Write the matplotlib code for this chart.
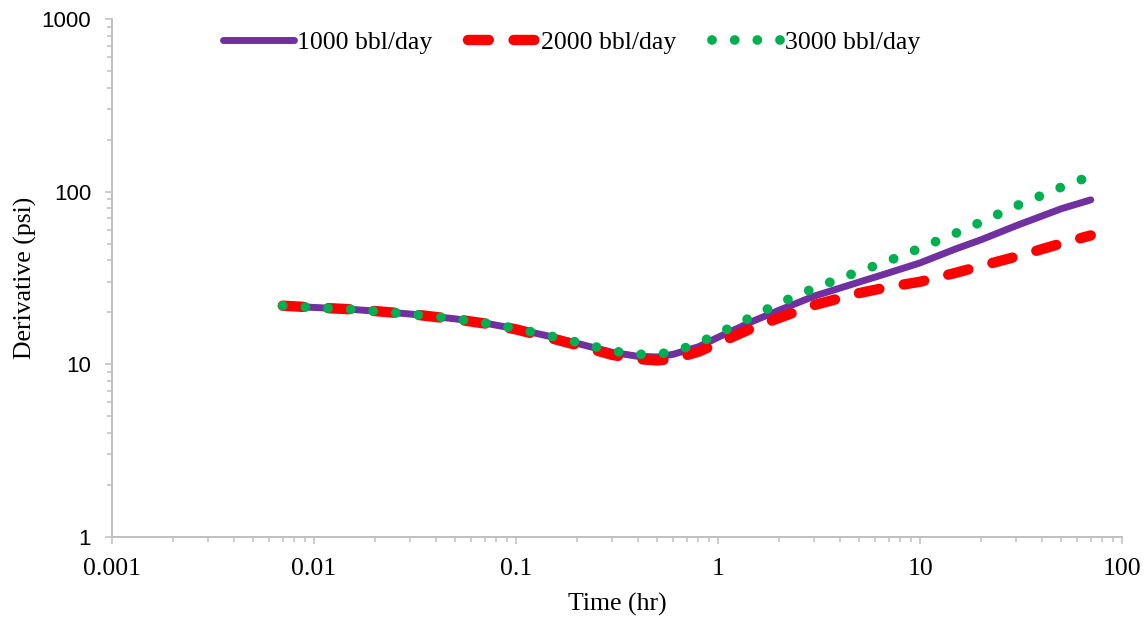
import matplotlib
matplotlib.use('Agg')
import matplotlib.pyplot as plt
from matplotlib.ticker import LogLocator, NullFormatter

# values
time_hr = [0.007, 0.01, 0.015, 0.02, 0.03, 0.05, 0.07, 0.1, 0.15, 0.2, 0.3,
           0.4, 0.5, 0.6, 0.8, 1, 1.5, 2, 3, 5, 7, 10, 15, 20, 30, 50, 70]
deriv_1000 = [21.8, 21.3, 20.8, 20.3, 19.5, 18.3, 17.3, 16.0, 14.4, 13.2, 11.7,
              11.1, 11.0, 11.4, 12.6, 14.3, 17.8, 20.5, 24.8, 29.9, 33.8, 38.6,
              46.5, 52.5, 63.5, 79.5, 89.5]
deriv_2000 = [21.8, 21.3, 20.8, 20.3, 19.5, 18.2, 17.2, 15.9, 14.1, 12.9, 11.3,
              10.7, 10.5, 10.7, 11.8, 13.2, 16.3, 18.5, 22.0, 25.8, 28.0, 30.0,
              33.8, 37.0, 42.0, 50.0, 55.7]
deriv_3000 = [21.8, 21.3, 20.8, 20.3, 19.5, 18.3, 17.3, 16.1, 14.5, 13.4, 11.9,
              11.4, 11.4, 11.8, 13.2, 15.0, 19.0, 22.5, 27.6, 34.5, 39.7, 47.0,
              57.3, 66.5, 82.7, 106, 123]
series_labels = ['1000 bbl/day', '2000 bbl/day', '3000 bbl/day']

x_ticks = [0.001, 0.01, 0.1, 1, 10, 100]
x_tick_labels = ['0.001', '0.01', '0.1', '1', '10', '100']
y_ticks = [1, 10, 100, 1000]
y_tick_labels = ['1', '10', '100', '1000']

serif = 'Liberation Serif'
sans = 'Liberation Sans'
axis_grey = '#bfbfbf'
fs = 18.5

fig = plt.figure(figsize=(11.48, 6.19), dpi=100)
ax = fig.add_axes([0.0976, 0.133, 0.8798, 0.8363])

ax.plot(time_hr, deriv_1000, color='#7030a0', lw=5, solid_capstyle='round',
        label=series_labels[0])
ax.plot(time_hr, deriv_2000, color='#ff0000', lw=7.5, dash_capstyle='round',
        linestyle=(0, (2.0, 2.38)), label=series_labels[1])
ax.plot(time_hr, deriv_3000, color='#00b050', lw=7, dash_capstyle='round',
        linestyle=(0, (0.01, 2.32)), label=series_labels[2])

ax.set_xscale('log')
ax.set_yscale('log')
ax.set_xlim(0.001, 100)
ax.set_ylim(1, 1000)

ax.set_xticks(x_ticks)
ax.set_xticklabels(x_tick_labels, fontfamily=serif, fontsize=fs)
ax.set_yticks(y_ticks)
ax.set_yticklabels(y_tick_labels, fontfamily=sans, fontsize=16)
for axis in (ax.xaxis, ax.yaxis):
    axis.set_minor_locator(LogLocator(base=10, subs=range(2, 10)))
    axis.set_minor_formatter(NullFormatter())

ax.tick_params(which='major', direction='out', length=5, width=1.1,
               color=axis_grey, pad=10)
ax.tick_params(which='minor', direction='out', length=3.5, width=1.1,
               color=axis_grey)

for side in ('top', 'right'):
    ax.spines[side].set_visible(False)
for side in ('left', 'bottom'):
    ax.spines[side].set_color(axis_grey)
    ax.spines[side].set_linewidth(1.4)

ax.set_xlabel('Time (hr)', fontfamily=serif, fontsize=fs, labelpad=10)
ax.set_ylabel('Derivative (psi)', fontfamily=serif, fontsize=fs, labelpad=3)

fig.legend(loc='center', bbox_to_anchor=(572 / 1148, 1 - 43 / 619),
           ncol=3, frameon=False, handlelength=2.75, handletextpad=0.1,
           columnspacing=1.4, prop={'family': serif, 'size': fs})

fig.savefig('out.png', dpi=100)
